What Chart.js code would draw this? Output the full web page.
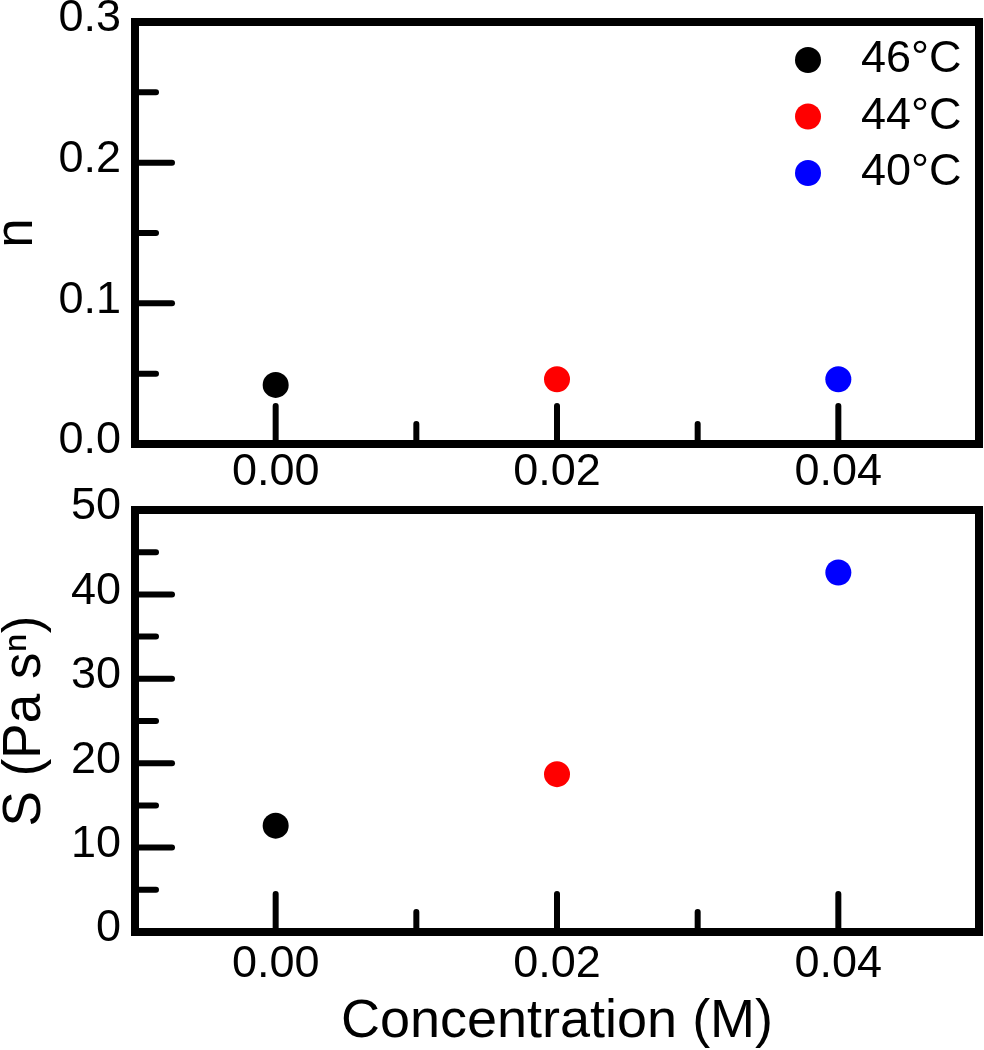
<!DOCTYPE html>
<html>
<head>
<meta charset="utf-8">
<script src="https://cdn.jsdelivr.net/npm/chart.js@4.4.1/dist/chart.umd.min.js"></script>
<style>
  html, body { margin: 0; padding: 0; background: #fff; }
  #wrap { position: relative; width: 984px; height: 1050px; }
  canvas { position: absolute; left: 0; }
  #nChart { top: 0; }
  #sChart { top: 460px; }
</style>
</head>
<body>
<div id="wrap">
  <canvas id="nChart" width="984" height="490"></canvas>
  <canvas id="sChart" width="984" height="590"></canvas>
</div>
<script>
/* ===============================
   Data
================================*/
const concentrations = [0.00, 0.02, 0.04];
const temperatures = ["46°C", "44°C", "40°C"];
const nValues = [0.042, 0.046, 0.046];
const sValues = [12.6, 18.7, 42.6];

const xTicks = [0.00, 0.02, 0.04];
const xMinorTicks = [0.01, 0.03];
const nTicks = [0, 0.1, 0.2, 0.3];
const nMinorTicks = [0.05, 0.15, 0.25];
const sTicks = [0, 10, 20, 30, 40, 50];
const sMinorTicks = [5, 15, 25, 35, 45];

const dotColors = ["#000000", "#ff0000", "#0000ff"];
const FONT = "'Liberation Sans', Arial, sans-serif";

/* ===============================
   Plugin: frame + inward ticks
================================*/
const frameTicks = {
  id: "frameTicks",
  afterDraw(chart, args, opts) {
    const { ctx, chartArea: a, scales } = chart;
    ctx.save();
    ctx.strokeStyle = "#000";
    ctx.lineCap = "round";
    ctx.lineWidth = 6;
    const tick = (scale, vals, len) => {
      vals.forEach((v) => {
        const p = scale.getPixelForValue(v);
        ctx.beginPath();
        if (scale.isHorizontal()) {
          ctx.moveTo(p, a.bottom);
          ctx.lineTo(p, a.bottom - len);
        } else {
          ctx.moveTo(a.left, p);
          ctx.lineTo(a.left + len, p);
        }
        ctx.stroke();
      });
    };
    tick(scales.x, opts.xMajor, 38);
    tick(scales.x, opts.xMinor, 20);
    tick(scales.y, opts.yMajor, 37);
    tick(scales.y, opts.yMinor, 21);
    // box
    ctx.lineCap = "butt";
    ctx.lineWidth = 8;
    ctx.strokeRect(a.left, a.top, a.right - a.left, a.bottom - a.top);
    ctx.restore();
  }
};

/* ===============================
   Plugin: legend inside plot
================================*/
const innerLegend = {
  id: "innerLegend",
  afterDraw(chart, args, opts) {
    if (!opts.show) return;
    const { ctx, chartArea: a } = chart;
    ctx.save();
    ctx.font = "45px " + FONT;
    ctx.textBaseline = "middle";
    ctx.textAlign = "left";
    chart.data.datasets.forEach((ds, i) => {
      const y = a.top + 38 + i * 56.5;
      ctx.fillStyle = ds.backgroundColor;
      ctx.beginPath();
      ctx.arc(a.right - 171, y, 13, 0, Math.PI * 2);
      ctx.fill();
      ctx.fillStyle = "#000";
      ctx.fillText(ds.label, a.right - 118, y);
    });
    ctx.restore();
  }
};

function buildDatasets(values) {
  return temperatures.map((t, i) => ({
    label: t,
    data: [{ x: concentrations[i], y: values[i] }],
    backgroundColor: dotColors[i],
    borderWidth: 0,
    pointRadius: 13
  }));
}

function makeChart(id, cfg) {
  return new Chart(document.getElementById(id), {
    type: "scatter",
    data: { datasets: buildDatasets(cfg.values) },
    options: {
      responsive: false,
      animation: false,
      events: [],
      layout: {
        autoPadding: false,
        padding: { top: cfg.padTop, right: 5, left: 0, bottom: 0 }
      },
      plugins: {
        legend: { display: false },
        tooltip: { enabled: false },
        innerLegend: { show: cfg.legend },
        frameTicks: {
          xMajor: xTicks, xMinor: xMinorTicks,
          yMajor: cfg.yTicks, yMinor: cfg.yMinor
        }
      },
      scales: {
        x: {
          type: "linear",
          min: -0.01,
          max: 0.05,
          afterBuildTicks: (s) => { s.ticks = xTicks.map((v) => ({ value: v })); },
          afterFit: (s) => {
            s.height = cfg.xHeight;
            s.paddingLeft = 0;
            s.paddingRight = 0;
          },
          grid: { display: false, drawTicks: false },
          border: { display: false },
          ticks: {
            color: "#000",
            padding: cfg.xPad,
            maxRotation: 0,
            autoSkip: false,
            font: { family: FONT, size: 45, lineHeight: 1.2 },
            callback: (v) => v.toFixed(2)
          },
          title: {
            display: !!cfg.xTitle,
            text: cfg.xTitle || "",
            color: "#000",
            font: { family: FONT, size: 54, lineHeight: 1.2 },
            padding: { top: 0, bottom: -5 }
          }
        },
        y: {
          type: "linear",
          min: cfg.yMin,
          max: cfg.yMax,
          afterBuildTicks: (s) => { s.ticks = cfg.yTicks.map((v) => ({ value: v })); },
          afterFit: (s) => {
            s.width = 135;
            s.paddingTop = 0;
            s.paddingBottom = 0;
          },
          grid: { display: false, drawTicks: false },
          border: { display: false },
          ticks: {
            color: "#000",
            padding: 14,
            labelOffset: -3,
            font: { family: FONT, size: 45, lineHeight: 1.2 },
            callback: cfg.yFormat
          },
          title: {
            display: true,
            text: cfg.yTitle,
            color: "#000",
            font: { family: FONT, size: 53, lineHeight: 1.2 },
            padding: { top: cfg.yTitlePad, bottom: 0 }
          }
        }
      }
    },
    plugins: [frameTicks, innerLegend]
  });
}

makeChart("nChart", {
  values: nValues,
  padTop: 22,
  xHeight: 46,
  xPad: 2,
  yMin: 0, yMax: 0.3,
  yTicks: nTicks, yMinor: nMinorTicks,
  yFormat: (v) => v.toFixed(1),
  yTitle: "n",
  yTitlePad: -14,
  legend: true
});

makeChart("sChart", {
  values: sValues,
  padTop: 50,
  xHeight: 118,
  xPad: 6,
  xTitle: "Concentration (M)",
  yMin: 0, yMax: 50,
  yTicks: sTicks, yMinor: sMinorTicks,
  yFormat: (v) => String(v),
  yTitle: "S (Pa sⁿ)",
  yTitlePad: -6,
  legend: false
});
</script>
</body>
</html>
